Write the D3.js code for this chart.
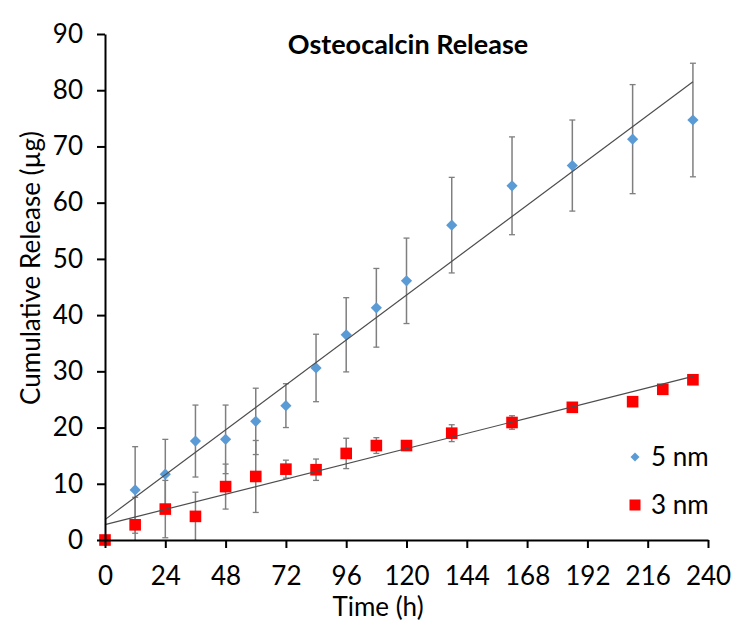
<!DOCTYPE html>
<html>
<head>
<meta charset="utf-8">
<script src="https://cdn.jsdelivr.net/npm/d3@7"></script>
<style>
  html, body { margin: 0; padding: 0; background: #fff; }
  svg { display: block; }
  text { font-family: Lato, "Open Sans", "Liberation Sans", sans-serif; fill: #000; }
</style>
</head>
<body>
<svg id="chart" width="737" height="632"></svg>
<script>
// ---- data ----
const hours5   = [0, 12, 24, 36, 48, 60, 72, 84, 96, 108, 120, 138, 162, 186, 210, 234];
const release5 = [0, 8.9, 11.7, 17.6, 17.9, 21.1, 23.9, 30.6, 36.5, 41.3, 46.1, 56.0, 63.0, 66.6, 71.3, 74.7];
const err5     = [0, 7.7, 6.2, 6.4, 6.1, 5.9, 3.9, 6.0, 6.6, 7.0, 7.6, 8.5, 8.7, 8.1, 9.7, 10.1];

const hours3   = [0, 12, 24, 36, 48, 60, 72, 84, 96, 108, 120, 138, 162, 186, 210, 222, 234];
const release3 = [0, 2.7, 5.5, 4.2, 9.5, 11.3, 12.6, 12.5, 15.4, 16.8, 16.8, 19.0, 20.9, 23.6, 24.6, 26.8, 28.5];
const err3     = [0, 4.9, 5.1, 4.3, 4.0, 6.4, 1.6, 1.9, 2.7, 1.4, 0.3, 1.5, 1.2, 0.4, 0.3, 0.3, 0.3];

const seriesNames = ["5 nm", "3 nm"];
const xTicks = [0, 24, 48, 72, 96, 120, 144, 168, 192, 216, 240];
const yTicks = [0, 10, 20, 30, 40, 50, 60, 70, 80, 90];
const titleText = "Osteocalcin Release";
const xTitle = "Time (h)";
const yTitle = "Cumulative Release (µg)";

// ---- layout ----
const svg = d3.select("#chart");
const x = d3.scaleLinear().domain([0, 240]).range([105, 708]);
const y = d3.scaleLinear().domain([0, 90]).range([540, 34]);

const blue = "#5B9BD5", red = "#FF0000", errCol = "#7F7F7F", trendCol = "#4D4D4D";

svg.append("defs").append("clipPath").attr("id", "plotclip")
  .append("rect").attr("x", x(0)).attr("y", y(90)).attr("width", x(240) - x(0)).attr("height", y(0) - y(90));

function regression(xs, ys) {
  const mx = d3.mean(xs), my = d3.mean(ys);
  let sxy = 0, sxx = 0;
  xs.forEach((v, i) => { sxy += (v - mx) * (ys[i] - my); sxx += (v - mx) * (v - mx); });
  const b = sxy / sxx;
  return { slope: b, intercept: my - b * mx };
}

const series = [
  { name: seriesNames[0], xs: hours5, ys: release5, es: err5, color: blue, shape: "diamond" },
  { name: seriesNames[1], xs: hours3, ys: release3, es: err3, color: red, shape: "square" }
];

const plot = svg.append("g");

function marker(g, shape, cx, cy, s, color) {
  if (shape === "diamond") {
    g.append("path")
      .attr("d", `M${cx},${cy - s}L${cx + s},${cy}L${cx},${cy + s}L${cx - s},${cy}Z`)
      .attr("fill", color);
  } else {
    g.append("rect").attr("x", cx - s).attr("y", cy - s)
      .attr("width", 2 * s).attr("height", 2 * s).attr("fill", color);
  }
}

series.forEach(s => {
  const g = plot.append("g");
  const eg = g.append("g").attr("clip-path", "url(#plotclip)");
  // error bars
  s.xs.forEach((hx, i) => {
    if (s.es[i] <= 0) return;
    const px = x(hx), top = y(s.ys[i] + s.es[i]), bot = y(s.ys[i] - s.es[i]);
    eg.append("line").attr("x1", px).attr("x2", px).attr("y1", top).attr("y2", bot)
      .attr("stroke", errCol).attr("stroke-width", 1.5);
    [top, bot].forEach(yy => eg.append("line").attr("x1", px - 3).attr("x2", px + 3)
      .attr("y1", yy).attr("y2", yy).attr("stroke", errCol).attr("stroke-width", 1.3));
  });
  // markers
  s.xs.forEach((hx, i) => marker(g, s.shape, x(hx), y(s.ys[i]), s.shape === "diamond" ? 5.6 : 5.8, s.color));
});

// trend lines (linear fit of each series)
series.forEach(s => {
  const r = regression(s.xs, s.ys);
  const x0 = d3.min(s.xs), x1 = d3.max(s.xs);
  plot.append("line")
    .attr("x1", x(x0)).attr("y1", y(r.intercept + r.slope * x0))
    .attr("x2", x(x1)).attr("y2", y(r.intercept + r.slope * x1))
    .attr("stroke", trendCol).attr("stroke-width", 1.2);
});

// axes
const yAxis = d3.axisLeft(y).tickValues(yTicks).tickSize(8).tickSizeOuter(0).tickPadding(14);
const xAxis = d3.axisBottom(x).tickValues(xTicks).tickSize(8).tickSizeOuter(0).tickPadding(19);

const gy = svg.append("g").attr("transform", `translate(${x(0)},0)`).call(yAxis);
const gx = svg.append("g").attr("transform", `translate(0,${y(0)})`).call(xAxis);
[gx, gy].forEach(g => {
  g.select(".domain").attr("stroke", "#000").attr("stroke-width", 2);
  g.selectAll(".tick line").attr("stroke", "#000").attr("stroke-width", 2);
  g.selectAll(".tick text").attr("font-family", "Lato, 'Open Sans', sans-serif")
    .attr("font-size", 26).attr("fill", "#000");
});

// titles
svg.append("text").attr("x", 408).attr("y", 54).attr("text-anchor", "middle")
  .attr("font-size", 27).attr("font-weight", "bold").text(titleText);
svg.append("text").attr("x", 378).attr("y", 616).attr("text-anchor", "middle")
  .attr("font-size", 26).text(xTitle);
svg.append("text").attr("transform", "translate(40,268) rotate(-90)").attr("text-anchor", "middle")
  .attr("font-size", 26).text(yTitle);

// legend
const legend = svg.append("g");
series.forEach((s, i) => {
  const ly = 457 + i * 48;
  marker(legend, s.shape, 635, ly, s.shape === "diamond" ? 4.5 : 5.5, s.color);
  legend.append("text").attr("x", 651).attr("y", ly).attr("dy", "0.36em")
    .attr("font-size", 26).text(s.name);
});
</script>
</body>
</html>
